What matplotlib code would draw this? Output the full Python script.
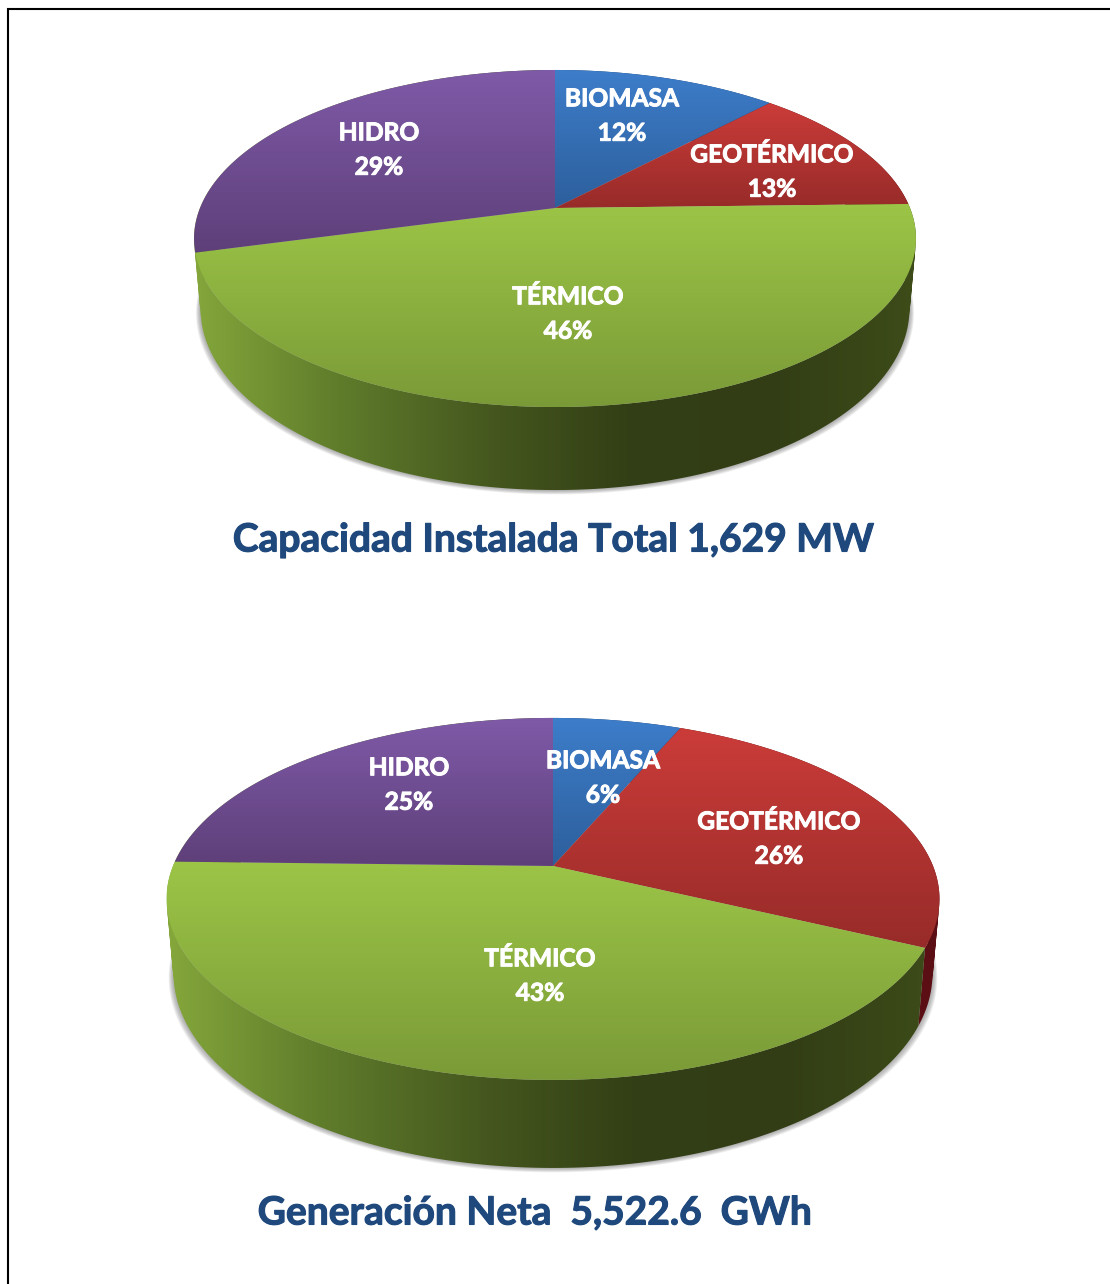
#!/usr/bin/env python3
"""Two perspective 3D pies: installed capacity and net generation."""
import numpy as np
import matplotlib
matplotlib.use("Agg")
import matplotlib.pyplot as plt
import matplotlib.patheffects as pe
from matplotlib.colors import LinearSegmentedColormap
from matplotlib.patches import PathPatch, Polygon
from matplotlib.path import Path

plt.rcParams['font.family'] = ['Lato', 'DejaVu Sans']

categories = ["BIOMASA", "GEOTÉRMICO", "TÉRMICO", "HIDRO"]
capacity_values = [12.0, 12.6, 46.2, 29.2]
generation_values = [6.4, 25.7, 43.3, 24.6]
capacity_title = "Capacidad Instalada Total 1,629 MW"
generation_title = "Generación Neta  5,522.6  GWh"

# top face gradient (top colour, bottom colour), one per category
face_colors = [("#3d7dca", "#2d5f9c"), ("#cb3c39", "#972b29"),
               ("#9cc547", "#7a9a37"), ("#7f5aa8", "#5e3f79")]
# outer wall gradient, left to right. the sliver of hidro wall at the far left
# reads as green in the picture, so it gets the green ramp too
green_wall = ["#84a63b", "#5f7c2b", "#46591f", "#333f15", "#323d15", "#3d4c19"]
wall_colors = [["#1c3a60", "#1c3a60"], ["#42090e", "#5c1015"], green_wall, green_wall]

W, H = 1110, 1284


def project(geom, theta):
    """Disc angle (clockwise from 12 o'clock) to pixels, with perspective."""
    u, v = np.sin(theta), np.cos(theta)
    w = 1 + geom["k"] * v
    return geom["cx"] + geom["b"] * u / w, geom["cy"] - geom["a"] * v / w, w


def lower_rim(geom, xt, yt, wt):
    return geom["cx"] + (xt - geom["cx"]) * geom["s"], yt + geom["d"] / wt


def fill_ramp(ax, patch, colors, extent, horizontal, z):
    patch.set(fc="none", ec="none")
    ax.add_patch(patch)
    cmap = LinearSegmentedColormap.from_list("g", colors)
    ramp = np.linspace(0, 1, 256)
    ramp = ramp[None, :] if horizontal else ramp[:, None]
    img = ax.imshow(ramp, cmap=cmap, aspect="auto", zorder=z, extent=extent,
                    interpolation="bilinear")
    img.set_clip_path(patch)


def wall_path(xt, yt, xb, yb):
    """One quad per rim step, all wound the same way so the silhouette stays filled."""
    verts, codes = [], []
    for j in range(len(xt) - 1):
        q = [(xt[j], yt[j]), (xt[j + 1], yt[j + 1]), (xb[j + 1], yb[j + 1]), (xb[j], yb[j])]
        area = sum(q[n][0] * q[(n + 1) % 4][1] - q[(n + 1) % 4][0] * q[n][1] for n in range(4))
        if area < 0:
            q = q[::-1]
        verts += q + [q[0]]
        codes += [Path.MOVETO, Path.LINETO, Path.LINETO, Path.LINETO, Path.CLOSEPOLY]
    return Path(verts, codes)


def draw_pie(ax, values, geom, label_pos, title, title_y):
    edges = np.radians(np.concatenate([[0], np.cumsum(values)]) * 3.6)

    # soft shadow under the wall
    th = np.linspace(0, 2 * np.pi, 400)
    xt, yt, wt = project(geom, th)
    xb, yb = lower_rim(geom, xt, yt, wt)
    for i in range(8, 0, -1):
        sx = geom["cx"] + (xb - geom["cx"]) * (1 + 0.0016 * i)
        ax.fill(sx, yb + 0.55 * i, color="#707070", alpha=0.09, lw=0, zorder=1)

    x_left, x_right = xt.min(), xt.max()
    y_low = yb.max() + 1

    # walls first, the top faces hide the back part of them
    for i in range(len(values)):
        t = np.linspace(edges[i], edges[i + 1], 150)
        xt, yt, wt = project(geom, t)
        xb, yb = lower_rim(geom, xt, yt, wt)
        patch = PathPatch(wall_path(xt, yt, xb, yb), transform=ax.transData)
        fill_ramp(ax, patch, wall_colors[i], (x_left, x_right, y_low, geom["cy"] - geom["a"]),
                  True, 2)

    for i in range(len(values)):
        t = np.linspace(edges[i], edges[i + 1], 200)
        xt, yt, _ = project(geom, t)
        x = np.r_[geom["cx"], xt]
        y = np.r_[geom["cy"], yt]
        patch = Polygon(np.column_stack([x, y]), closed=True, transform=ax.transData)
        fill_ramp(ax, patch, face_colors[i], (x.min() - 1, x.max() + 1, y.max(), y.min()),
                  False, 3)
        lx, ly = label_pos[i]
        ax.text(lx, ly, "%s\n%d%%" % (categories[i], round(values[i])), color="white",
                fontsize=17.7, fontweight="bold", ha="center", va="center",
                linespacing=1.6, zorder=5,
                path_effects=[pe.withStroke(linewidth=0.7, foreground="white")])

    # the source font is a bit heavier than Lato bold, a thin stroke makes up for it
    ax.text(geom["title_x"], title_y, title, color="#1f497d", fontsize=28.05,
            fontweight="bold", ha="center", va="center", zorder=5,
            path_effects=[pe.withStroke(linewidth=0.8, foreground="#1f497d")])


fig = plt.figure(figsize=(W / 100, H / 100), dpi=100)
ax = fig.add_axes([0, 0, 1, 1])

geom1 = dict(cx=555, cy=208, a=163, b=355, k=0.181, s=0.982, d=68, title_x=554)
geom2 = dict(cx=553, cy=866, a=175, b=380, k=0.182, s=0.982, d=72, title_x=535)

draw_pie(ax, capacity_values, geom1,
         [(622, 116), (772, 172), (568, 314), (379, 150)], capacity_title, 540)
draw_pie(ax, generation_values, geom2,
         [(603, 778), (779, 839), (540, 976), (409, 785)], generation_title, 1213)

# frame, only top and left are inside the crop
ax.plot([8, 8, W], [H, 9, 9], color="black", lw=1.5, solid_joinstyle="miter", zorder=6)

ax.set_xlim(0, W)
ax.set_ylim(H, 0)
ax.axis("off")
fig.savefig("out.png", dpi=100, facecolor="white")
